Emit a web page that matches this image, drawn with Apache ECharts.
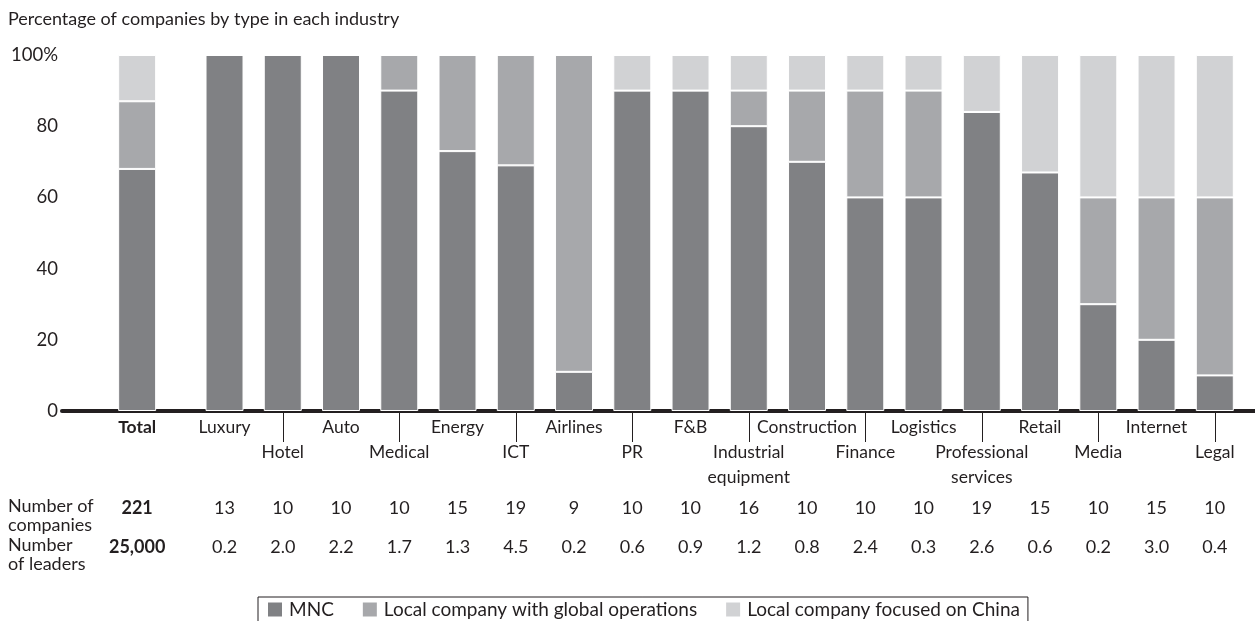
<!DOCTYPE html>
<html>
<head>
<meta charset="utf-8">
<script src="https://cdn.jsdelivr.net/npm/echarts@6/dist/echarts.min.js"></script>
<style>
  html, body { margin: 0; padding: 0; background: #fff; }
  #chart { width: 1255px; height: 621px; }
</style>
</head>
<body>
<div id="chart"></div>
<script>
// Industries, first entry is the overall total
const categories = ['Total', 'Luxury', 'Hotel', 'Auto', 'Medical', 'Energy', 'ICT', 'Airlines', 'PR', 'F&B',
  'Industrial equipment', 'Construction', 'Finance', 'Logistics', 'Professional services', 'Retail',
  'Media', 'Internet', 'Legal'];
// Share of companies by type, percent
const mnc         = [68, 100, 100, 100, 90, 73, 69, 11, 90, 90, 80, 70, 60, 60, 84, 67, 30, 20, 10];
const localGlobal = [19, 0, 0, 0, 10, 27, 31, 89, 0, 0, 10, 20, 30, 30, 0, 0, 30, 40, 50];
const localChina  = [13, 0, 0, 0, 0, 0, 0, 0, 10, 10, 10, 10, 10, 10, 16, 33, 40, 40, 40];
// Table rows under the chart
const companies = ['221', '13', '10', '10', '10', '15', '19', '9', '10', '10', '16', '10', '10', '10', '19', '15', '10', '15', '10'];
const leaders = ['25,000', '0.2', '2.0', '2.2', '1.7', '1.3', '4.5', '0.2', '0.6', '0.9', '1.2', '0.8', '2.4', '0.3', '2.6', '0.6', '0.2', '3.0', '0.4'];
const seriesNames = ['MNC', 'Local company with global operations', 'Local company focused on China'];
const yTicks = [0, 20, 40, 60, 80, 100];

const FONT = 'Lato';
const INK = '#231f20';
const COLORS = ['#808184', '#a7a8ab', '#d1d2d4'];
const X_MIN = -1.29, X_MAX = 19.19;

// Total sits apart from the industries, with an extra half slot of space
const pos = categories.map((_, i) => (i === 0 ? 0 : i + 0.5));
const idxOf = v => pos.findIndex(p => Math.abs(p - v) < 1e-6);
// Industries alternate between an upper and a lower label row
const lowerRow = pos.filter((_, i) => i >= 2 && i % 2 === 0);

function catLabel(v) {
  const i = idxOf(v);
  if (i < 0) return '';
  if (i === 0) return '{b|' + categories[i] + '}';
  let name = categories[i];
  if (name === 'Industrial equipment') name = 'Industrial\nequipment';
  if (name === 'Professional services') name = 'Professional\nservices';
  return (i >= 2 && i % 2 === 0) ? '\n' + name : name;
}

function tableAxis(values, margin) {
  return {
    type: 'value', gridIndex: 0, position: 'bottom', min: X_MIN, max: X_MAX,
    axisLine: { show: false }, axisTick: { show: false }, splitLine: { show: false },
    axisLabel: {
      customValues: pos, margin: margin, color: INK, fontFamily: FONT, fontSize: 18,
      formatter: v => { const i = idxOf(v); return i === 0 ? '{b|' + values[i] + '}' : (i < 0 ? '' : values[i]); },
      rich: { b: { fontWeight: 'bold', fontFamily: FONT, fontSize: 18, color: INK } }
    }
  };
}

const segs = [mnc, localGlobal, localChina];
const chart = echarts.init(document.getElementById('chart'));
chart.setOption({
  animation: false,
  textStyle: { fontFamily: FONT, color: INK },
  grid: { left: 62, right: 0, top: 55, bottom: 210, containLabel: false },
  xAxis: [
    {
      type: 'value', min: X_MIN, max: X_MAX,
      splitLine: { show: false },
      axisLine: { show: true, lineStyle: { color: INK, width: 4 } },
      axisTick: { show: true, customValues: lowerRow, length: 31, lineStyle: { color: INK, width: 1 } },
      axisLabel: {
        customValues: pos, margin: 4, color: INK, fontFamily: FONT, fontSize: 17.5, lineHeight: 25,
        formatter: catLabel,
        rich: { b: { fontWeight: 'bold', fontFamily: FONT, fontSize: 17.5, color: INK, lineHeight: 25 } }
      }
    },
    tableAxis(companies, 88),
    tableAxis(leaders, 127)
  ],
  yAxis: {
    type: 'value', min: 0, max: 100, interval: 20,
    splitLine: { show: false }, axisLine: { show: false }, axisTick: { show: false },
    axisLabel: {
      customValues: yTicks, margin: 4, color: INK, fontFamily: FONT, fontSize: 18.5,
      formatter: v => (v === 100 ? '100%' : String(v))
    }
  },
  legend: {
    left: 258, top: 597, orient: 'horizontal',
    data: seriesNames,
    icon: 'rect', itemWidth: 16, itemHeight: 16, itemGap: 27,
    padding: [3, 8, 6, 8],
    borderColor: INK, borderWidth: 1,
    textStyle: { color: INK, fontFamily: FONT, fontSize: 19, padding: [0, 0, 0, 1] }
  },
  graphic: [
    { type: 'text', left: 8, top: 10, style: { text: 'Percentage of companies by type in each industry', fontFamily: FONT, fontSize: 18, fill: INK } },
    { type: 'text', left: 8, top: 497, style: { text: 'Number of\ncompanies', fontFamily: FONT, fontSize: 18, lineHeight: 19, fill: INK } },
    { type: 'text', left: 8, top: 536, style: { text: 'Number\nof leaders', fontFamily: FONT, fontSize: 18, lineHeight: 19, fill: INK } }
  ],
  // value first, slot position second, so the stack runs on the share values
  series: segs.map((arr, s) => ({
    name: seriesNames[s], type: 'bar', stack: 'share', barWidth: 38,
    xAxisIndex: 0,
    encode: { x: 1, y: 0 },
    itemStyle: { color: COLORS[s], borderColor: '#fff', borderWidth: 1 },
    data: arr.map((v, i) => [v, pos[i]])
  }))
});
</script>
</body>
</html>
